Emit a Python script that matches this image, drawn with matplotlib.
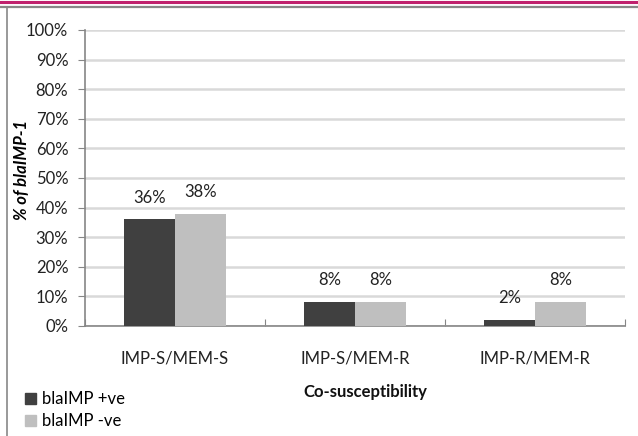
import matplotlib
matplotlib.use("Agg")
import matplotlib.pyplot as plt
from matplotlib.lines import Line2D
from matplotlib.patches import Patch
import numpy as np

categories = ["IMP-S/MEM-S", "IMP-S/MEM-R", "IMP-R/MEM-R"]
positive = [36, 8, 2]
negative = [38, 8, 8]
series_names = ["blaIMP +ve", "blaIMP -ve"]
yticks = [0, 10, 20, 30, 40, 50, 60, 70, 80, 90, 100]

plt.rcParams["font.family"] = ["Lato", "DejaVu Sans"]
fs = 12

fig = plt.figure(figsize=(6.38, 4.36), dpi=100)
fig.patch.set_facecolor("white")

# page rules and frame
fig.add_artist(Line2D([0, 1], [1 - 2 / 436, 1 - 2 / 436], color="#c0226e", lw=2.2))
fig.add_artist(Line2D([0, 1], [1 - 7.5 / 436, 1 - 7.5 / 436], color="#888888", lw=1.6))
fig.add_artist(Line2D([6.5 / 638, 6.5 / 638], [0, 1 - 8 / 436], color="#888888", lw=1.2))

ax = fig.add_axes([85 / 638, 1 - 326 / 436, 540 / 638, 296 / 436])

x = np.arange(len(categories))
w = 0.285
dark, light = "#404040", "#bfbfbf"
b1 = ax.bar(x - w / 2, positive, w, color=dark, zorder=3)
b2 = ax.bar(x + w / 2, negative, w, color=light, zorder=3)

for bars, vals in ((b1, positive), (b2, negative)):
    for rect, v in zip(bars, vals):
        ax.annotate(f"{v}%", (rect.get_x() + rect.get_width() / 2, v),
                    xytext=(0, 10), textcoords="offset points",
                    ha="center", va="bottom", fontsize=fs, color="#222222")

ax.set_xlim(-0.5, 2.5)
ax.set_ylim(0, 100)
ax.set_yticks(yticks)
ax.set_yticklabels([f"{t}%" for t in yticks], fontsize=fs, color="#222222")
ax.set_xticks([-0.5, 0.5, 1.5, 2.5], minor=False)
ax.set_xticklabels([])
ax.set_xticks(x, minor=True)
ax.set_xticklabels(categories, minor=True, fontsize=fs, color="#222222")
ax.tick_params(axis="x", which="minor", length=0, pad=18)
ax.tick_params(axis="x", which="major", length=5, color="#868686", direction="in")
ax.tick_params(axis="y", length=5, color="#868686", direction="out", pad=7)

ax.grid(axis="y", color="#d9d9d9", lw=1.8, zorder=0)
for s in ("top", "right"):
    ax.spines[s].set_visible(False)
for s in ("left", "bottom"):
    ax.spines[s].set_color("#868686")
    ax.spines[s].set_linewidth(1.2)

ax.set_ylabel("% of blaIMP-1", fontsize=fs, fontweight="bold",
              fontstyle="italic", va="center")
ax.yaxis.set_label_coords(-63 / 540, 156 / 296)
fig.text(365 / 638, 1 - 392 / 436, "Co-susceptibility", ha="center", va="center",
         fontsize=fs, fontweight="bold", color="#111111")

handles = [Patch(color=dark), Patch(color=light)]
fig.legend(handles, series_names, loc="upper left",
           bbox_to_anchor=(17 / 638, 1 - 383 / 436), frameon=False,
           fontsize=fs, handlelength=0.65, handleheight=0.65,
           handletextpad=0.35, labelspacing=0.35, borderpad=0)

fig.savefig("out.png", dpi=100)
